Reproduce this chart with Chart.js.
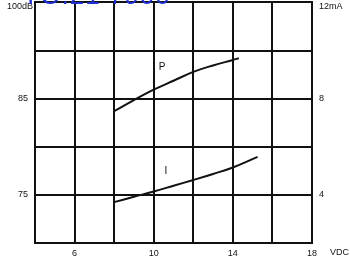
<!DOCTYPE html>
<html>
<head>
<meta charset="utf-8">
<script src="https://cdn.jsdelivr.net/npm/chart.js@4/dist/chart.umd.min.js"></script>
<style>
  html, body { margin: 0; padding: 0; background: #fff; }
  #wrap { position: relative; width: 350px; height: 259px; overflow: hidden; }
  #chart { position: absolute; left: 0; top: -10px; }
  #mark {
    position: absolute; left: 22px; top: -18px;
    font: 26px "Liberation Sans", Arial, sans-serif; line-height: 26px;
    color: #1f2fd0; white-space: pre; letter-spacing: 1px;
  }
</style>
</head>
<body>
<div id="wrap">
  <canvas id="chart" width="350" height="269"></canvas>
  <div id="mark">YO.21 7900</div>
</div>
<script>
// P curve (dB, left axis) and I curve (mA, right axis) vs supply voltage
const pVolts = [8, 9, 10, 11, 12, 13, 14, 14.3];
const pDb    = [83.7, 84.85, 85.93, 86.86, 87.78, 88.45, 89.02, 89.2];
const iVolts = [8, 9, 10, 11, 12, 13, 14, 15.25];
const iMa    = [3.70, 3.92, 4.14, 4.38, 4.62, 4.87, 5.14, 5.58];

// tick labels (the top ones sit just below the top edge, drawn by the plugin)
const xTickLabels = { 6: '6', 10: '10', 14: '14', 18: '18' };
const leftTickLabels = { 75: '75', 85: '85' };
const rightTickLabels = { 4: '4', 8: '8' };
const leftTopLabel = { value: 95, text: '100dB' };
const rightTopLabel = { value: 12, text: '12mA' };
const xUnit = 'VDC';

// curve name labels, in data units
const curveNames = [
    { text: 'P', x: 10.42, y: 88.3, axis: 'y' },
    { text: 'I', x: 10.62, y: 4.99, axis: 'y1' }
];

const INK = '#111';
const FONT = { family: '"Liberation Sans", Arial, sans-serif', size: 9 };

const toPoints = (xs, ys) => xs.map((x, i) => ({ x: x, y: ys[i] }));

const textPlugin = {
    id: 'curveText',
    afterDatasetsDraw(chart) {
        const ctx = chart.ctx;
        const xs = chart.scales.x;
        const yl = chart.scales.y;
        const yr = chart.scales.y1;
        ctx.save();
        ctx.fillStyle = INK;
        ctx.font = '10px "Liberation Sans", Arial, sans-serif';
        ctx.textAlign = 'center';
        ctx.textBaseline = 'middle';
        curveNames.forEach(function(c) {
            ctx.fillText(c.text, xs.getPixelForValue(c.x), chart.scales[c.axis].getPixelForValue(c.y));
        });
        // top axis labels
        ctx.font = '9px "Liberation Sans", Arial, sans-serif';
        ctx.textAlign = 'right';
        ctx.fillText(leftTopLabel.text, yl.right - 2, yl.getPixelForValue(leftTopLabel.value) + 4);
        ctx.textAlign = 'left';
        ctx.fillText(rightTopLabel.text, yr.left + 7, yr.getPixelForValue(rightTopLabel.value) + 4);
        // unit after the last x tick
        ctx.fillText(xUnit, xs.right + 18, xs.bottom - 6);
        ctx.restore();
    }
};

new Chart(document.getElementById('chart'), {
    type: 'line',
    data: {
        datasets: [{
            label: 'P',
            data: toPoints(pVolts, pDb),
            yAxisID: 'y',
            borderColor: INK,
            borderWidth: 2,
            pointRadius: 0,
            tension: 0.4
        }, {
            label: 'I',
            data: toPoints(iVolts, iMa),
            yAxisID: 'y1',
            borderColor: INK,
            borderWidth: 2,
            pointRadius: 0,
            tension: 0.4
        }]
    },
    options: {
        responsive: false,
        animation: false,
        layout: { padding: 0 },
        plugins: {
            legend: { display: false },
            tooltip: { enabled: false }
        },
        scales: {
            x: {
                type: 'linear',
                min: 4,
                max: 18,
                grid: { color: INK, lineWidth: 2, drawTicks: false },
                border: { color: INK, width: 2 },
                ticks: {
                    stepSize: 2,
                    autoSkip: false,
                    maxRotation: 0,
                    padding: 5,
                    color: INK,
                    font: FONT,
                    callback: v => xTickLabels[v] || ''
                },
                afterFit: s => { s.height = 16; }
            },
            y: {
                position: 'left',
                min: 70,
                max: 95,
                grid: { color: INK, lineWidth: 2, drawTicks: false },
                border: { color: INK, width: 2 },
                ticks: {
                    stepSize: 5,
                    autoSkip: false,
                    padding: 7,
                    color: INK,
                    font: FONT,
                    callback: v => leftTickLabels[v] || ''
                },
                afterFit: s => { s.width = 35; }
            },
            y1: {
                position: 'right',
                min: 2,
                max: 12,
                grid: { drawOnChartArea: false, drawTicks: false },
                border: { color: INK, width: 2 },
                ticks: {
                    stepSize: 2,
                    autoSkip: false,
                    padding: 7,
                    color: INK,
                    font: FONT,
                    callback: v => rightTickLabels[v] || ''
                },
                afterFit: s => { s.width = 38; }
            }
        }
    },
    plugins: [textPlugin]
});
</script>
</body>
</html>
